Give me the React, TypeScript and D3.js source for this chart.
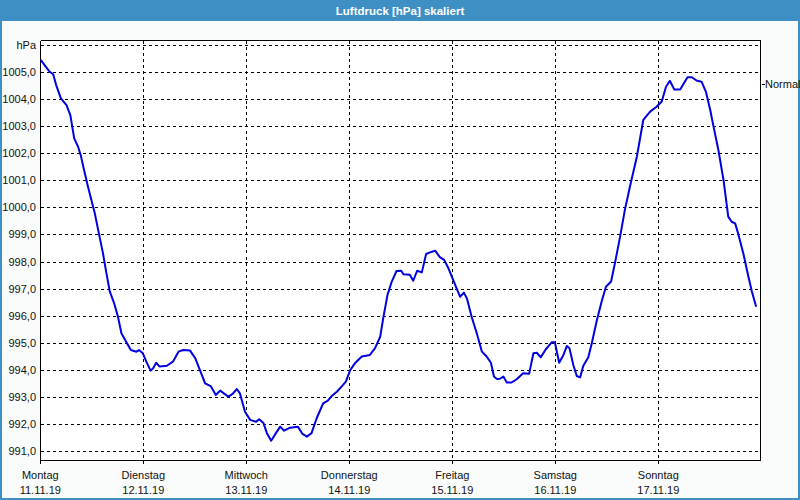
import React from "react";
import * as d3 from "d3";

// hours since Monday 11.11.19 00:00
const hours = [
  0.1, 1.0, 2.2, 3.0, 3.7, 4.8, 6.1, 7.0, 7.9, 8.8, 9.4, 10.2, 11.1, 11.9, 12.7, 13.8, 14.6, 15.4, 16.2, 17.2,
  18.1, 18.9, 20.0, 21.1, 22.4, 23.0, 23.9, 24.7, 25.7, 26.3, 27.0, 27.8, 29.5, 30.9, 32.2, 33.3, 34.9, 36.1, 37.2, 38.4,
  39.7, 40.9, 41.9, 43.8, 44.8, 45.8, 46.5, 47.7, 48.9, 50.3, 51.0, 52.0, 52.8, 53.8, 54.9, 55.9, 56.8, 58.2, 60.0, 61.1,
  62.1, 63.2, 64.4, 65.9, 67.0, 67.9, 69.1, 70.2, 71.2, 72.2, 73.3, 74.9, 76.8, 78.0, 79.2, 79.9, 80.9, 81.9, 83.0, 84.1,
  84.6, 86.1, 86.9, 87.8, 88.9, 89.9, 90.8, 92.0, 93.1, 94.1, 95.1, 96.2, 97.8, 98.7, 99.4, 100.5, 101.7, 102.9, 104.0, 105.0,
  105.7, 106.4, 107.1, 107.9, 108.7, 109.8, 111.0, 112.5, 113.9, 114.9, 115.7, 116.6, 117.8, 119.2, 119.9, 120.9, 121.9, 122.7, 123.3, 124.2,
  125.0, 125.8, 126.5, 127.7, 128.5, 129.7, 130.8, 131.8, 133.0, 133.9, 135.1, 136.2, 137.4, 139.0, 140.5, 142.1, 143.6, 144.8, 145.8, 146.7,
  147.7, 149.1, 150.8, 151.8, 153.0, 154.1, 155.1, 156.1, 156.8, 158.0, 159.2, 160.3, 161.1, 161.9, 162.6, 163.8, 165.0, 165.8, 166.8,
];

const pressure = [
  1005.45, 1005.26, 1005.01, 1004.92, 1004.52, 1004.03, 1003.78, 1003.41, 1002.55, 1002.24, 1001.94, 1001.38, 1000.77, 1000.27, 999.78, 998.92, 998.31, 997.57, 996.89, 996.46,
  995.96, 995.35, 995.04, 994.73, 994.67, 994.73, 994.61, 994.3, 993.97, 994.06, 994.26, 994.12, 994.15, 994.3, 994.67, 994.73, 994.71, 994.43, 993.99, 993.5,
  993.4, 993.07, 993.23, 993.01, 993.11, 993.29, 993.13, 992.45, 992.15, 992.08, 992.17, 992.03, 991.66, 991.38, 991.66, 991.9, 991.75, 991.86, 991.9, 991.63,
  991.53, 991.66, 992.21, 992.76, 992.86, 993.03, 993.19, 993.38, 993.56, 993.99, 994.24, 994.49, 994.55, 994.8, 995.22, 995.9, 996.77, 997.26, 997.65, 997.66,
  997.53, 997.51, 997.29, 997.66, 997.6, 998.28, 998.34, 998.4, 998.16, 998.06, 997.75, 997.32, 996.7, 996.85, 996.64, 995.96, 995.35, 994.67, 994.49, 994.26,
  993.75, 993.66, 993.67, 993.75, 993.53, 993.53, 993.65, 993.87, 993.85, 994.61, 994.63, 994.46, 994.76, 995.02, 995.02, 994.26, 994.55, 994.88, 994.8, 994.18,
  993.77, 993.72, 994.14, 994.46, 994.98, 995.84, 996.52, 997.07, 997.26, 997.94, 998.92, 999.9, 1000.77, 1001.87, 1003.23, 1003.54, 1003.72, 1003.91, 1004.46, 1004.68,
  1004.36, 1004.36, 1004.81, 1004.81, 1004.68, 1004.64, 1004.27, 1003.6, 1003.04, 1002.12, 1001.01, 999.66, 999.47, 999.41, 999.04, 998.31, 997.44, 996.89, 996.33,
];

const dayNames = ["Montag", "Dienstag", "Mittwoch", "Donnerstag", "Freitag", "Samstag", "Sonntag"];
const dayDates = ["11.11.19", "12.11.19", "13.11.19", "14.11.19", "15.11.19", "16.11.19", "17.11.19"];
const yTicks = [991, 992, 993, 994, 995, 996, 997, 998, 999, 1000, 1001, 1002, 1003, 1004, 1005];
const yUnitValue = 1006;
const normalValue = 1004.55;
const title = "Luftdruck [hPa] skaliert";

const W = 800;
const H = 500;
const FONT = "'Liberation Sans', Arial, sans-serif";

export default function App() {
  const x = d3.scaleLinear().domain([0, 168]).range([40.3, 761.3]);
  const y = d3.scaleLinear().domain([991, 1006]).range([451, 45]);
  const left = 40.5;
  const right = 760.5;
  const top = 40.5;
  const bottom = 460.5;

  const pts: [number, number][] = hours.map((h, i) => [h, pressure[i]]);
  const line = d3
    .line<[number, number]>()
    .x((d) => x(d[0]))
    .y((d) => y(d[1]));

  const snap = (v: number) => Math.round(v) + 0.5;

  return (
    <div style={{ position: "fixed", left: 0, top: 0, width: W, height: H }}>
      <svg width={W} height={H} style={{ display: "block" }}>
        <rect x={0} y={0} width={W} height={H} fill="#f9fcfa" />
        {/* frame */}
        <rect x={1} y={1} width={W - 2} height={H - 2} fill="none" stroke="#3d8fc4" strokeWidth={2} />
        {/* title bar */}
        <rect x={0} y={0} width={W} height={21} fill="#3d8fc4" />
        <text x={400} y={15} textAnchor="middle" fill="#ffffff" fontFamily={FONT} fontWeight="bold" fontSize={11.5}>
          {title}
        </text>
        {/* plot background */}
        <rect x={left} y={top} width={right - left} height={bottom - top} fill="#ffffff" />
        {/* horizontal grid */}
        {[...yTicks, yUnitValue].map((v) => (
          <line
            key={"h" + v}
            x1={left}
            x2={right}
            y1={snap(y(v))}
            y2={snap(y(v))}
            stroke="#000"
            strokeWidth={1}
            strokeDasharray="3,3"
            shapeRendering="crispEdges"
          />
        ))}
        {/* vertical grid */}
        {dayNames.slice(1).map((_, i) => (
          <line
            key={"v" + i}
            x1={snap(x((i + 1) * 24))}
            x2={snap(x((i + 1) * 24))}
            y1={top}
            y2={bottom + 4}
            stroke="#000"
            strokeWidth={1}
            strokeDasharray="3,3"
            shapeRendering="crispEdges"
          />
        ))}
        {/* axes box */}
        <line x1={left} x2={right} y1={top} y2={top} stroke="#000" shapeRendering="crispEdges" />
        <line x1={left} x2={right} y1={bottom} y2={bottom} stroke="#000" shapeRendering="crispEdges" />
        <line x1={left} x2={left} y1={top} y2={bottom + 3} stroke="#000" shapeRendering="crispEdges" />
        <line x1={right} x2={right} y1={top} y2={bottom} stroke="#000" shapeRendering="crispEdges" />
        {/* y labels */}
        {yTicks.map((v) => (
          <text
            key={"yl" + v}
            x={36}
            y={y(v) + 4}
            textAnchor="end"
            fontFamily={FONT}
            fontSize={11}
            fill="#111"
          >
            {d3.format(".1f")(v).replace(".", ",")}
          </text>
        ))}
        <text x={36} y={y(yUnitValue) + 4} textAnchor="end" fontFamily={FONT} fontSize={11} fill="#111">
          hPa
        </text>
        {/* normal marker */}
        <line x1={762} x2={765} y1={snap(y(normalValue))} y2={snap(y(normalValue))} stroke="#000" shapeRendering="crispEdges" />
        <text x={765} y={y(normalValue) + 4} fontFamily={FONT} fontSize={11} fill="#111">
          Normal
        </text>
        {/* x labels */}
        {dayNames.map((d, i) => (
          <g key={"xl" + i}>
            <text x={x(i * 24)} y={479} textAnchor="middle" fontFamily={FONT} fontSize={11} fill="#111">
              {d}
            </text>
            <text x={x(i * 24)} y={494} textAnchor="middle" fontFamily={FONT} fontSize={11} fill="#111">
              {dayDates[i]}
            </text>
          </g>
        ))}
        {/* data line */}
        <path d={line(pts) || ""} fill="none" stroke="#0000e0" strokeWidth={2} strokeLinejoin="round" />
      </svg>
    </div>
  );
}
